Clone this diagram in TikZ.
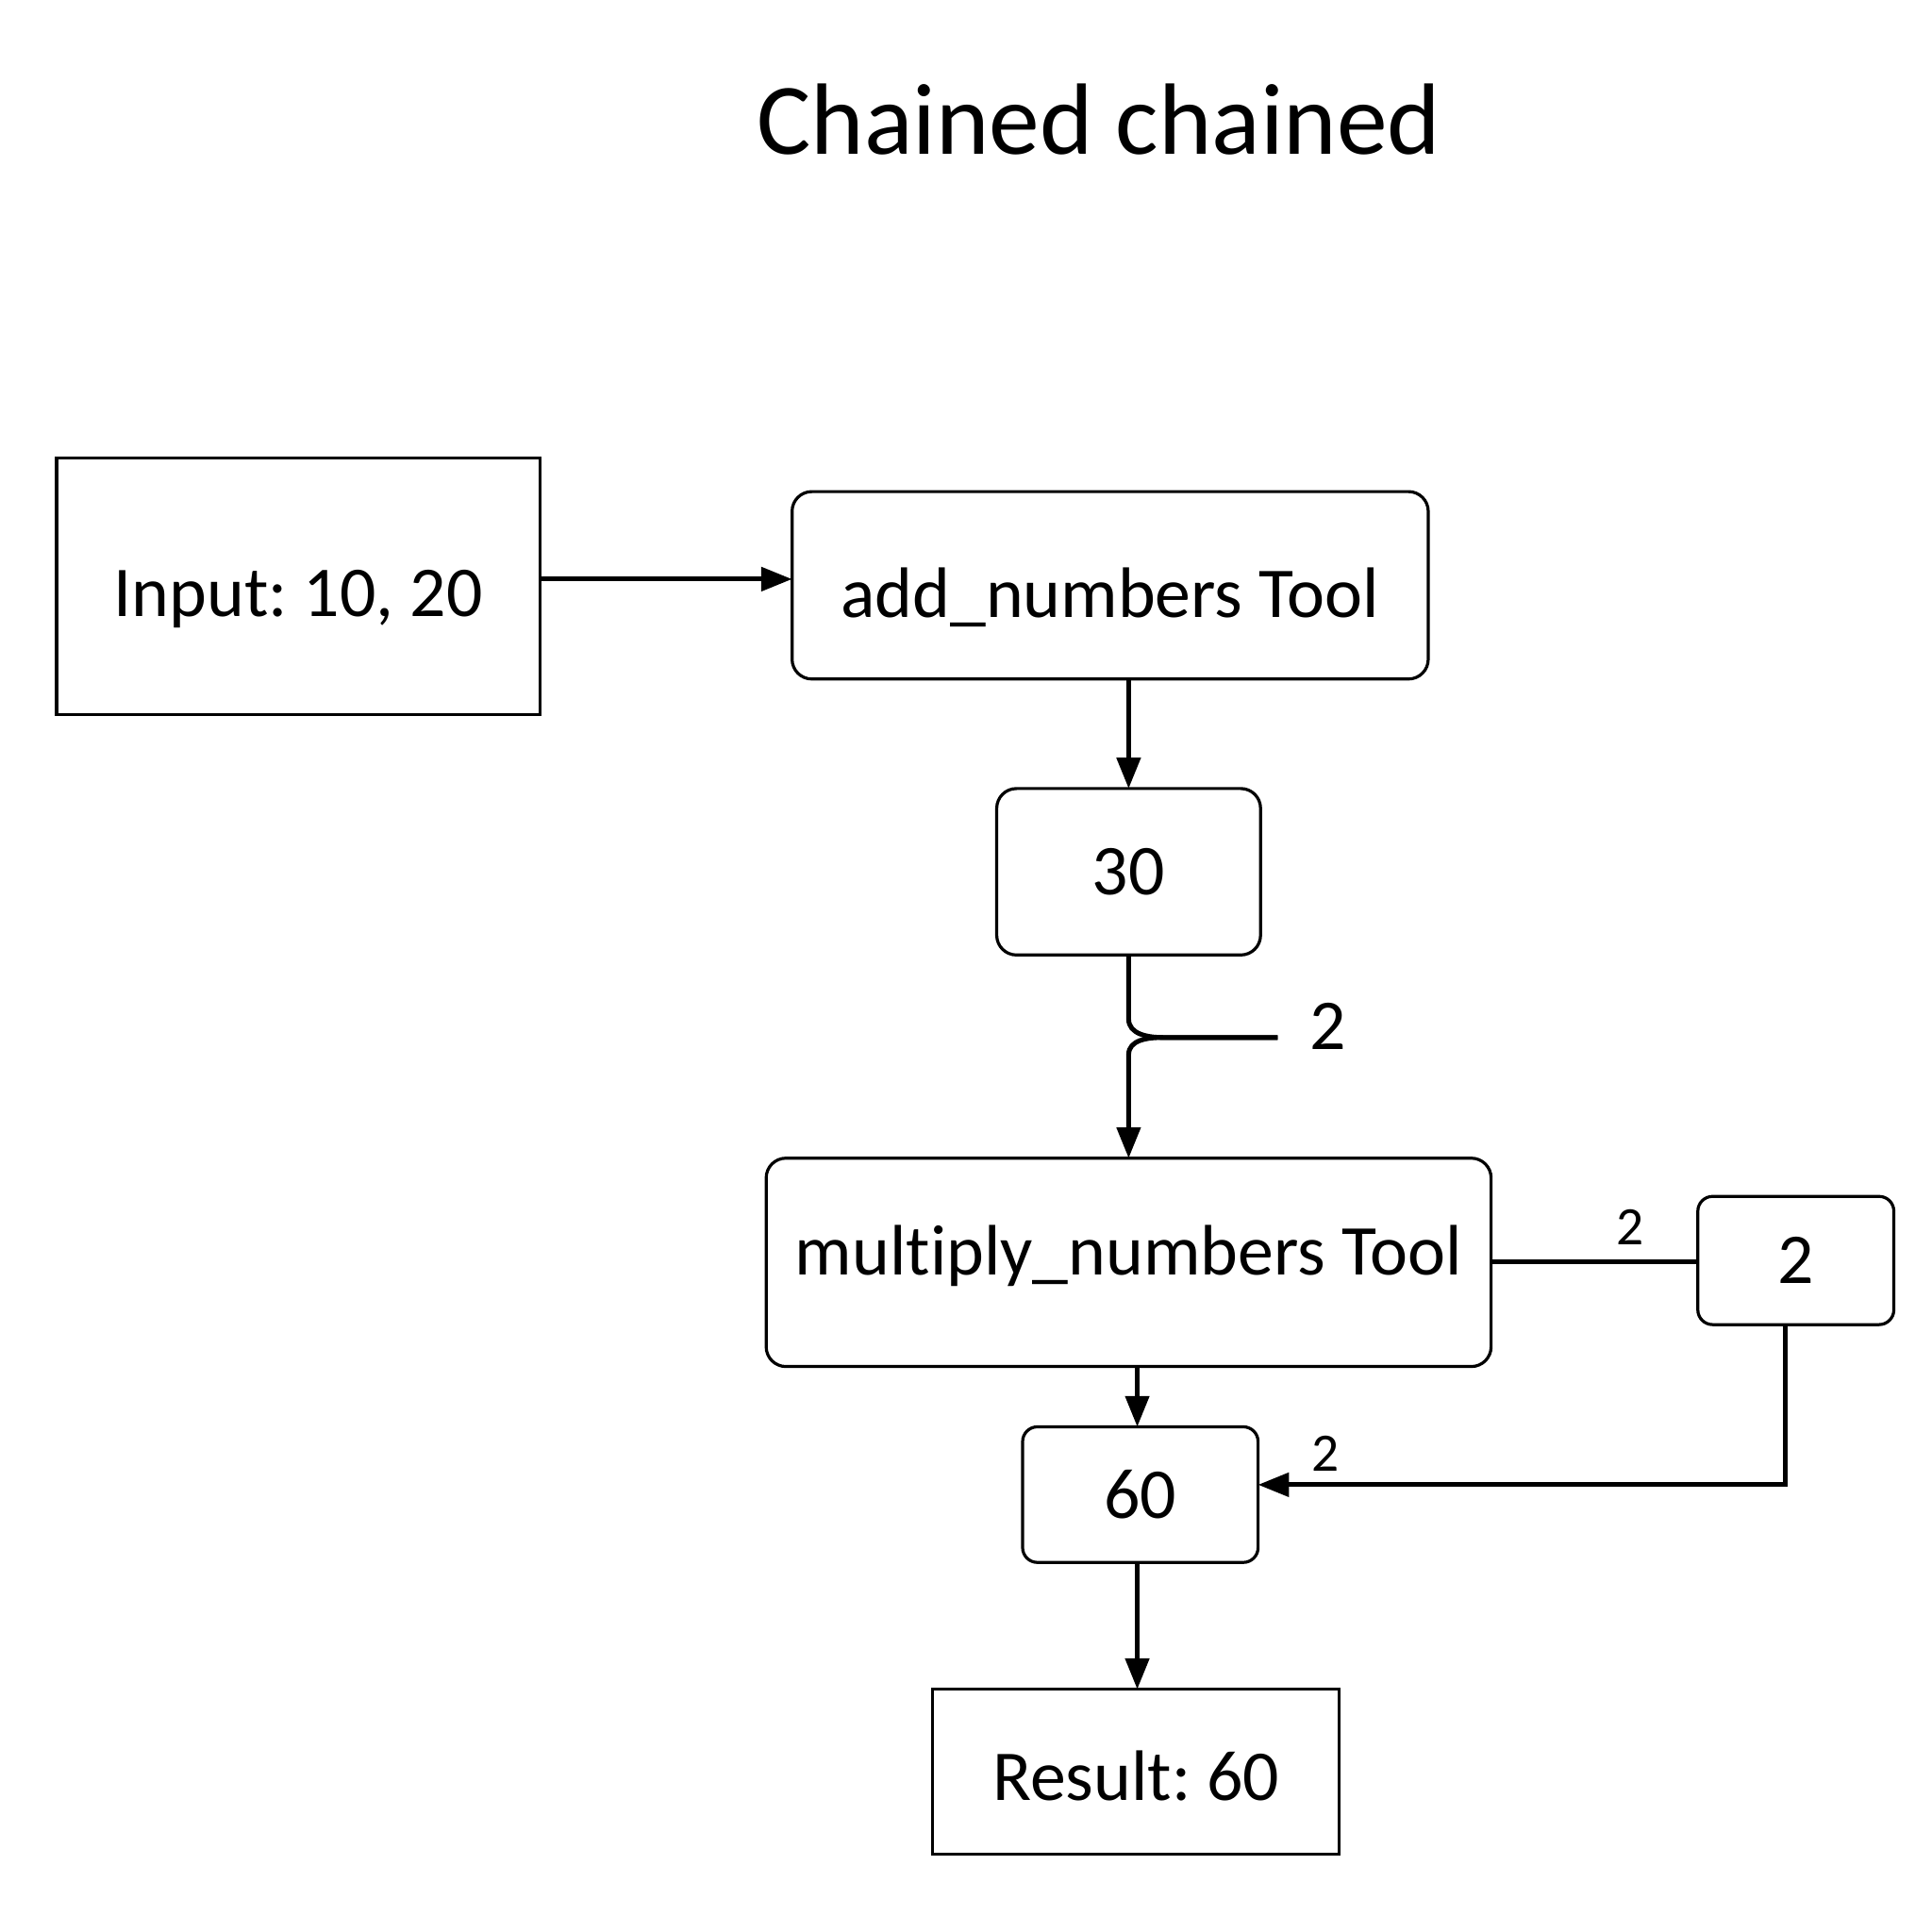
\documentclass[tikz,border=0pt]{standalone}
\usepackage{fontspec}
\setmainfont[Ligatures=NoCommon]{Carlito}
\usetikzlibrary{arrows.meta}
\frenchspacing
\newcommand{\shiftt}[2]{\raisebox{#1}[\height][\depth]{#2}}
\begin{document}
\begin{tikzpicture}[x=0.01cm,y=-0.01cm,
  box/.style={draw=black,line width=0.7pt,inner sep=0pt,outer sep=0pt,font=\fontsize{16.5}{19}\selectfont\frenchspacing},
  rbox/.style={box,rounded corners=0.16cm},
  conn/.style={line width=1.1pt,-{Triangle[length=0.25cm,width=0.19cm]}},
  plain/.style={line width=1.1pt},
  small/.style={font=\fontsize{12.5}{14}\selectfont,inner sep=0pt},
]
\useasboundingbox (0,0) rectangle (1568,1568);
\node[font=\fontsize{23.4}{28}\selectfont] (title) at (892,97) {Chained chained};

\node[box,minimum width=3.92cm,minimum height=2.08cm] (input) at (242,476) {\shiftt{-0.1cm}{Input: 10, 20}};
\node[rbox,minimum width=5.16cm,minimum height=1.52cm] (add) at (901,475) {\shiftt{-0.1cm}{add\_numbers Tool}};
\node[rbox,minimum width=2.14cm,minimum height=1.35cm] (n30) at (916,707.5) {30};
\node[rbox,minimum width=5.88cm,minimum height=1.69cm] (mult) at (916,1024.5) {\shiftt{0.05cm}{multiply\_numbers Tool}};
\node[rbox,minimum width=1.59cm,minimum height=1.04cm,rounded corners=0.12cm] (two) at (1457.5,1023) {2};
\node[rbox,minimum width=1.91cm,minimum height=1.10cm,rounded corners=0.12cm] (n60) at (925.5,1213) {60};
\node[box,minimum width=3.30cm,minimum height=1.34cm] (result) at (922,1438) {\shiftt{-0.03cm}{Result: 60}};

\coordinate (jend) at (1037,842);
\node[font=\fontsize{16.5}{19}\selectfont,inner sep=0pt] (lab1) at (1078,833) {2};
\node[small] (lab2) at (1323,996) {2};
\node[small] (lab3) at (1076,1180) {2};

\draw[conn] (input.east |- 0,470) -- (add.west |- 0,470);
\draw[conn] (add.south -| n30) -- (n30.north);
\draw[plain] (n30.south) -- (916,827) to[out=-90,in=180] (944,842) -- (jend);
\draw[conn] (jend) -- (944,842) to[out=180,in=90] (916,856) -- (mult.north);
\draw[conn] (mult.south -| 923,0) -- (n60.north -| 923,0);
\draw[plain] (mult.east |- 0,1024) -- (two.west |- 0,1024);
\draw[conn] (two.south -| 1449,0) |- (n60.east |- 0,1205);
\draw[conn] (n60.south -| 923,0) -- (result.north -| 923,0);
\end{tikzpicture}
\end{document}
